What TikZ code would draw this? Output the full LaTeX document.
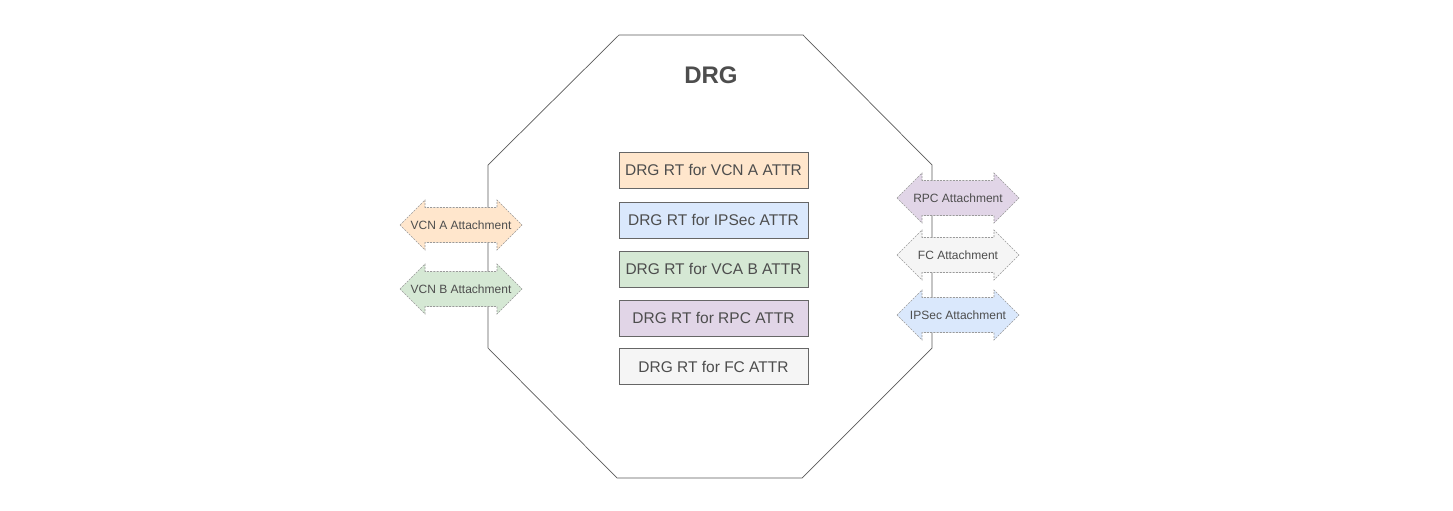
\documentclass[tikz,border=0pt]{standalone}
\usepackage{fontspec}
\setmainfont{Liberation Sans}
\definecolor{txt}{HTML}{4D4D4D}
\definecolor{boxline}{HTML}{666666}
\definecolor{orangeF}{HTML}{FFE6CC}
\definecolor{blueF}{HTML}{DAE8FC}
\definecolor{greenF}{HTML}{D5E8D4}
\definecolor{purpleF}{HTML}{E1D5E7}
\definecolor{grayF}{HTML}{F5F5F5}
\definecolor{arrline}{HTML}{9A9A9A}
\definecolor{octline}{HTML}{5A5A5A}
\newcommand{\dblarr}[5]{%
  \begin{scope}[shift={(#1,#2)}]
    \path[arrshape, fill=#3] (-61,0) -- (-36,-25) -- (-36,-17.5) -- (36,-17.5) -- (36,-25) -- (61,0)
      -- (36,25) -- (36,17.5) -- (-36,17.5) -- (-36,25) -- cycle;
    \node[arrtext] (#4) at (0,0) {#5};
  \end{scope}}
\begin{document}
\begin{tikzpicture}[x=1pt,y=-1pt,
  rtbox/.style={draw=boxline, line width=0.8pt, minimum width=189pt, minimum height=36pt, inner sep=0pt, font=\fontsize{15.5}{18}\selectfont, text=txt},
  arrshape/.style={draw=arrline, dashed, dash pattern=on 2pt off 1.2pt, line width=0.6pt},
  arrtext/.style={font=\fontsize{12}{14}\selectfont, text=txt, inner sep=0pt},
  octo/.style={draw=octline, line width=0.7pt}]
\useasboundingbox (0,0) rectangle (1453,511);
\draw[octo] (619,35) -- (803,35) -- (932,165) -- (932,348) -- (802,478) -- (617,478) -- (488,348) -- (488,165) -- cycle;
\node[font=\bfseries\fontsize{24}{28}\selectfont, text=txt] (drg) at (711,75) {DRG};
\node[rtbox, fill=orangeF] (rtA) at (713.5,170) {DRG RT for VCN A ATTR};
\node[rtbox, fill=blueF] (rtI) at (713.5,220) {DRG RT for IPSec ATTR};
\node[rtbox, fill=greenF] (rtB) at (713.5,269) {DRG RT for VCA B ATTR};
\node[rtbox, fill=purpleF] (rtR) at (713.5,318) {DRG RT for RPC ATTR};
\node[rtbox, fill=grayF] (rtF) at (713.5,366.5) {DRG RT for FC ATTR};
\dblarr{461}{225}{orangeF}{vcna}{VCN A Attachment}
\dblarr{461}{289}{greenF}{vcnb}{VCN B Attachment}
\dblarr{958}{198}{purpleF}{rpc}{RPC Attachment}
\dblarr{958}{255}{grayF}{fc}{FC Attachment}
\dblarr{958}{315}{blueF}{ipsec}{IPSec Attachment}
\end{tikzpicture}
\end{document}
